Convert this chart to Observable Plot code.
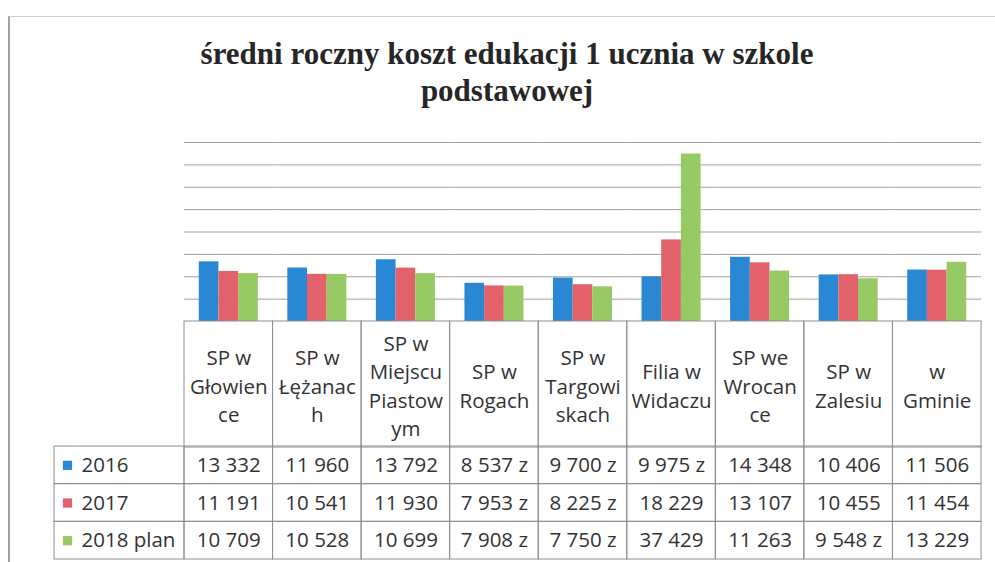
<!DOCTYPE html>
<html>
<head>
<meta charset="utf-8">
<script src="https://cdn.jsdelivr.net/npm/d3@7"></script>
<script src="https://cdn.jsdelivr.net/npm/@observablehq/plot@0.6"></script>
<style>
  body { margin: 0; background: #fff; }
  #wrap { position: relative; width: 995px; height: 562px; overflow: hidden; background: #fff; }
  #border { position: absolute; left: 8px; top: 16px; width: 1000px; height: 600px;
            border-left: 2px solid #a3a3a3; border-top: 1px solid #d0d0d0; }
  #title { position: absolute; left: 0; top: 35px; width: 1014px; text-align: center;
           font: bold 31px "Liberation Serif", serif; line-height: 37px; color: #262626; }
  .abs { position: absolute; }
  svg { overflow: visible; }
</style>
</head>
<body>
<div id="wrap">
  <div id="border"></div>
  <div id="title">średni roczny koszt edukacji 1 ucznia w szkole<br>podstawowej</div>
  <div id="chart" class="abs" style="left:0;top:0"></div>
  <div id="head" class="abs" style="left:0;top:320px"></div>
  <div id="labels" class="abs" style="left:53px;top:445px"></div>
  <div id="rows" class="abs" style="left:0;top:445px"></div>
</div>
<script>
// ---- data ----
const schools = ["SP w Głowience", "SP w Łężanach", "SP w Miejscu Piastowym", "SP w Rogach",
  "SP w Targowiskach", "Filia w Widaczu", "SP we Wrocance", "SP w Zalesiu", "w Gminie"];
const headerLabels = ["SP w\nGłowien\nce", "SP w\nŁężanac\nh", "SP w\nMiejscu\nPiastow\nym", "SP w\nRogach",
  "SP w\nTargowi\nskach", "Filia w\nWidaczu", "SP we\nWrocan\nce", "SP w\nZalesiu", "w\nGminie"];
const years = ["2016", "2017", "2018 plan"];
const cost2016 = [13332, 11960, 13792, 8537, 9700, 9975, 14348, 10406, 11506];
const cost2017 = [11191, 10541, 11930, 7953, 8225, 18229, 13107, 10455, 11454];
const cost2018 = [10709, 10528, 10699, 7908, 7750, 37429, 11263, 9548, 13229];
const gridTicks = [5000, 10000, 15000, 20000, 25000, 30000, 35000, 40000];
const colors = ["#2a87d3", "#e2626c", "#97c964"];

const series = [cost2016, cost2017, cost2018];
const rows = schools.flatMap((s, i) => years.map((y, j) => ({school: s, year: y, value: series[j][i]})));

const loc = d3.formatLocale({decimal: ",", thousands: "\u00a0", grouping: [3], currency: ["", " zł"]});
const fmt = loc.format(",d");
// Excel cell shows "zł" cut to "z" where the column is too narrow
const cellText = d => fmt(d.value) + (d.value < 10000 ? " z" : "");

const font = "'Open Sans', sans-serif";
const textColor = "#333";
const lineColor = "#8f8f8f";
const W = 995, ML = 184, MR = 14;

// ---- bar chart ----
const chart = Plot.plot({
  width: W, height: 322,
  marginLeft: ML, marginRight: MR, marginTop: 142, marginBottom: 1,
  style: {background: "transparent"},
  fx: {domain: schools, padding: 0, round: false, axis: null},
  x: {domain: years, paddingInner: 0, paddingOuter: 0.75, round: false, axis: null},
  y: {domain: [0, 40000], axis: null},
  color: {domain: years, range: colors},
  marks: [
    Plot.ruleY(gridTicks, {stroke: "#a0a0a0", strokeWidth: 1}),
    Plot.barY(rows, {fx: "school", x: "year", y: "value", fill: "year"})
  ]
});
document.getElementById("chart").append(chart);

// ---- data table: header row ----
const head = Plot.plot({
  width: W, height: 128,
  marginLeft: ML, marginRight: MR, marginTop: 1, marginBottom: 1,
  style: {background: "transparent"},
  x: {domain: schools, padding: 0, round: false, axis: null},
  marks: [
    Plot.cell(schools, {x: d => d, fill: "none", stroke: lineColor}),
    Plot.text(schools, {x: d => d, text: (d, i) => headerLabels[i], fontSize: 20.5,
      lineHeight: 1.39, fill: textColor, fontFamily: font})
  ]
});
document.getElementById("head").append(head);

// ---- data table: value rows ----
const body = Plot.plot({
  width: W, height: 115,
  marginLeft: ML, marginRight: MR, marginTop: 1, marginBottom: 1,
  style: {background: "transparent"},
  x: {domain: schools, padding: 0, round: false, axis: null},
  y: {domain: years, padding: 0, round: false, axis: null},
  marks: [
    Plot.cell(rows, {x: "school", y: "year", fill: "none", stroke: lineColor}),
    Plot.text(rows, {x: "school", y: "year", text: cellText, fontSize: 20.5, fill: textColor, fontFamily: font})
  ]
});
document.getElementById("rows").append(body);

// ---- data table: legend column ----
const labels = Plot.plot({
  width: 132, height: 115,
  marginLeft: 1, marginRight: 1, marginTop: 1, marginBottom: 1,
  style: {background: "transparent"},
  y: {domain: years, padding: 0, round: false, axis: null},
  color: {domain: years, range: colors},
  marks: [
    Plot.cell(years, {y: d => d, fill: "none", stroke: lineColor}),
    Plot.dot(years, {y: d => d, frameAnchor: "left", dx: 13, symbol: "square", r: 5.2, fill: d => d}),
    Plot.text(years, {y: d => d, frameAnchor: "left", dx: 27, textAnchor: "start", text: d => d,
      fontSize: 20.5, fill: textColor, fontFamily: font})
  ]
});
document.getElementById("labels").append(labels);
</script>
</body>
</html>
